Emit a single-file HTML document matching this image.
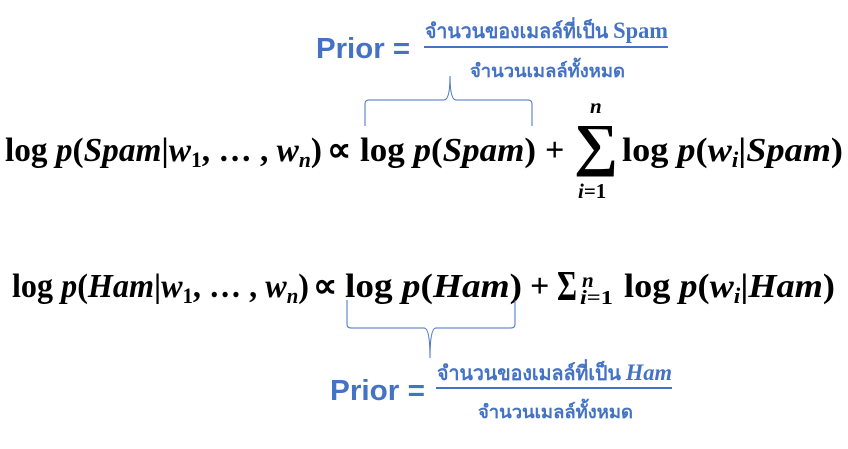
<!DOCTYPE html>
<html><head><meta charset="utf-8"><style>
html,body{margin:0;padding:0;background:#fff;width:848px;height:449px;overflow:hidden}
svg{display:block}
.m{font-family:"Liberation Serif",serif;font-weight:bold;fill:#000}
.i{font-style:italic}
.b{font-family:"Liberation Sans",sans-serif;font-weight:bold;fill:#4472C4}
.t{font-family:"Liberation Serif","Noto Sans CJK SC",sans-serif;font-weight:bold;fill:#4472C4}
</style></head><body>
<svg width="848" height="449" viewBox="0 0 848 449">
<!-- Top prior -->
<text class="b" x="316" y="58" font-size="29" textLength="94" lengthAdjust="spacingAndGlyphs">Prior =</text>
<text class="t" x="425" y="38" font-size="20" textLength="243" lengthAdjust="spacingAndGlyphs">จำนวนของเมลล์ที่เป็น <tspan font-size="23">Spam</tspan></text>
<line x1="424" y1="47" x2="668" y2="47" stroke="#4472C4" stroke-width="2"/>
<text class="t" x="470" y="77" font-size="18" textLength="155" lengthAdjust="spacingAndGlyphs">จำนวนเมลล์ทั้งหมด</text>
<path d="M365,126 L365,104 Q365,100 369,100 L444,100 Q450,100 450,76 Q450,100 456,100 L528,100 Q532,100 532,104 L532,126" fill="none" stroke="#4472C4" stroke-width="1"/>

<!-- Equation 1 -->
<text class="m" x="5" y="161" font-size="34" textLength="317" lengthAdjust="spacingAndGlyphs">log <tspan class="i">p</tspan>(<tspan class="i">Spam</tspan>|<tspan class="i">w</tspan><tspan font-size="22" dy="6">1</tspan><tspan dy="-6">, … , </tspan><tspan class="i">w</tspan><tspan class="i" font-size="22" dy="6">n</tspan><tspan dy="-6">)</tspan></text>
<text class="m" x="327" y="161" font-size="34">∝</text>
<text class="m" x="360" y="161" font-size="34" textLength="176" lengthAdjust="spacingAndGlyphs">log <tspan class="i">p</tspan>(<tspan class="i">Spam</tspan>)</text>
<text class="m" x="545" y="161" font-size="34">+</text>
<text class="m" x="574" y="164" font-size="58" textLength="44" lengthAdjust="spacingAndGlyphs">∑</text>
<text class="m i" x="590" y="113" font-size="21">n</text>
<text class="m" x="578" y="198" font-size="21"><tspan class="i">i</tspan>=1</text>
<text class="m" x="622" y="161" font-size="34" textLength="221" lengthAdjust="spacingAndGlyphs">log <tspan class="i">p</tspan>(<tspan class="i">w</tspan><tspan class="i" font-size="22" dy="6">i</tspan><tspan dy="-6">|</tspan><tspan class="i">Spam</tspan>)</text>

<!-- Equation 2 -->
<text class="m" x="12" y="297" font-size="34" textLength="297" lengthAdjust="spacingAndGlyphs">log <tspan class="i">p</tspan>(<tspan class="i">Ham</tspan>|<tspan class="i">w</tspan><tspan font-size="22" dy="6">1</tspan><tspan dy="-6">, … , </tspan><tspan class="i">w</tspan><tspan class="i" font-size="22" dy="6">n</tspan><tspan dy="-6">)</tspan></text>
<text class="m" x="313" y="297" font-size="34">∝</text>
<text class="m" x="345" y="297" font-size="34" textLength="177" lengthAdjust="spacingAndGlyphs">log <tspan class="i">p</tspan>(<tspan class="i">Ham</tspan>)</text>
<text class="m" x="530" y="297" font-size="34">+</text>
<text class="m" x="557" y="300" font-size="42" textLength="20" lengthAdjust="spacingAndGlyphs">Σ</text>
<text class="m i" x="582" y="287" font-size="21">n</text>
<text class="m" x="580" y="304" font-size="20" textLength="33" lengthAdjust="spacingAndGlyphs"><tspan class="i">i</tspan>=1</text>
<text class="m" x="624" y="297" font-size="34" textLength="211" lengthAdjust="spacingAndGlyphs">log <tspan class="i">p</tspan>(<tspan class="i">w</tspan><tspan class="i" font-size="22" dy="6">i</tspan><tspan dy="-6">|</tspan><tspan class="i">Ham</tspan>)</text>
<path d="M347,300 L347,324 Q347,328 351,328 L424,328 Q430,328 430,358 Q430,328 436,328 L511,328 Q515,328 515,324 L515,300" fill="none" stroke="#4472C4" stroke-width="1"/>

<!-- Bottom prior -->
<text class="b" x="330" y="400" font-size="29" textLength="95" lengthAdjust="spacingAndGlyphs">Prior =</text>
<text class="t" x="437" y="380" font-size="20" textLength="235" lengthAdjust="spacingAndGlyphs">จำนวนของเมลล์ที่เป็น <tspan font-size="23" font-style="italic">Ham</tspan></text>
<line x1="436" y1="388" x2="672" y2="388" stroke="#4472C4" stroke-width="2"/>
<text class="t" x="478" y="418" font-size="18" textLength="155" lengthAdjust="spacingAndGlyphs">จำนวนเมลล์ทั้งหมด</text>
</svg>
</body></html>
